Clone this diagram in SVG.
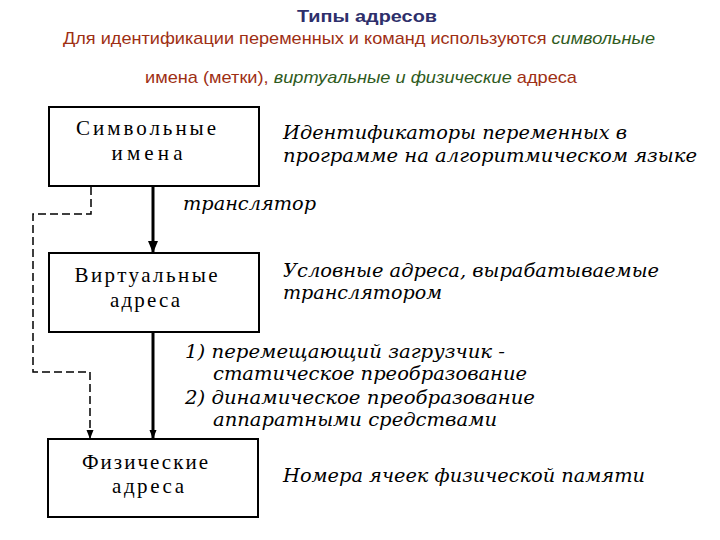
<svg xmlns="http://www.w3.org/2000/svg" width="720" height="540" viewBox="0 0 720 540">
<style>
.hdr{font-family:"Liberation Sans",Arial,sans-serif;font-size:17px}
.title{fill:#2e2f6b;font-weight:bold}
.br{fill:#9e2f14}
.gr{fill:#2f5b1d;font-style:italic}
.box{fill:#fff;stroke:#000;stroke-width:2}
.bt{font-family:"Liberation Serif","Times New Roman",serif;font-size:21px;fill:#000;text-anchor:middle}
.it{font-family:"DejaVu Serif",serif;font-style:italic;font-size:18px;fill:#000}
.main{stroke:#000;stroke-width:3;fill:none}
.dash{stroke:#000;stroke-width:1.5;fill:none;stroke-dasharray:8 4}
</style>
<defs>
<marker id="big" markerUnits="userSpaceOnUse" markerWidth="13" markerHeight="11" refX="12" refY="5" orient="auto"><path d="M0,0 L12,5 L0,10 z" fill="#000"/></marker>
<marker id="small" markerUnits="userSpaceOnUse" markerWidth="10" markerHeight="8" refX="9" refY="3.5" orient="auto"><path d="M0,0 L9,3.5 L0,7 z" fill="#000"/></marker>
</defs>
<rect width="720" height="540" fill="#fff"/>
<g id="header" class="hdr">
<text class="title" x="367" y="22" text-anchor="middle" textLength="140" lengthAdjust="spacingAndGlyphs">Типы адресов</text>
<text x="63" y="44" textLength="592" lengthAdjust="spacingAndGlyphs"><tspan class="br">Для идентификации переменных и команд используются </tspan><tspan class="gr">символьные</tspan></text>
<text x="145" y="83" textLength="432" lengthAdjust="spacingAndGlyphs"><tspan class="br">имена (метки), </tspan><tspan class="gr">виртуальные  и физические</tspan><tspan class="br"> адреса</tspan></text>
</g>
<g id="connectors">
<line class="main" x1="153" y1="187" x2="153" y2="253" marker-end="url(#big)"/>
<line class="main" x1="153" y1="333" x2="153" y2="439" marker-end="url(#small)"/>
<path class="dash" d="M91,187 V214 H33 V372 H90 V439" marker-end="url(#small)"/>
</g>
<g id="symbolic">
<rect class="box" x="49" y="107" width="210" height="79"/>
<text class="bt" x="146" y="135" textLength="140">Символьные</text>
<text class="bt" x="147" y="160" textLength="71">имена</text>
</g>
<g id="virtual">
<rect class="box" x="49" y="253" width="210" height="79"/>
<text class="bt" x="146" y="282" textLength="143">Виртуальные</text>
<text class="bt" x="145" y="307" textLength="70">адреса</text>
</g>
<g id="physical">
<rect class="box" x="48" y="439" width="210" height="78"/>
<text class="bt" x="145" y="469" textLength="126">Физические</text>
<text class="bt" x="148" y="493" textLength="72">адреса</text>
</g>
<g id="notes" class="it">
<text x="283" y="139" textLength="344" lengthAdjust="spacingAndGlyphs">Идентификаторы переменных в</text>
<text x="283" y="162" textLength="414" lengthAdjust="spacingAndGlyphs">программе на алгоритмическом языке</text>
<text x="183" y="210" textLength="133" lengthAdjust="spacingAndGlyphs">транслятор</text>
<text x="283" y="277" textLength="376" lengthAdjust="spacingAndGlyphs">Условные адреса, вырабатываемые</text>
<text x="283" y="299" textLength="159" lengthAdjust="spacingAndGlyphs">транслятором</text>
<text x="185" y="358" textLength="320" lengthAdjust="spacingAndGlyphs">1) перемещающий загрузчик -</text>
<text x="213" y="380" textLength="314" lengthAdjust="spacingAndGlyphs">статическое преобразование</text>
<text x="185" y="404" textLength="350" lengthAdjust="spacingAndGlyphs">2) динамическое преобразование</text>
<text x="213" y="426" textLength="284" lengthAdjust="spacingAndGlyphs">аппаратными средствами</text>
<text x="283" y="482" textLength="362" lengthAdjust="spacingAndGlyphs">Номера ячеек физической памяти</text>
</g>
</svg>
